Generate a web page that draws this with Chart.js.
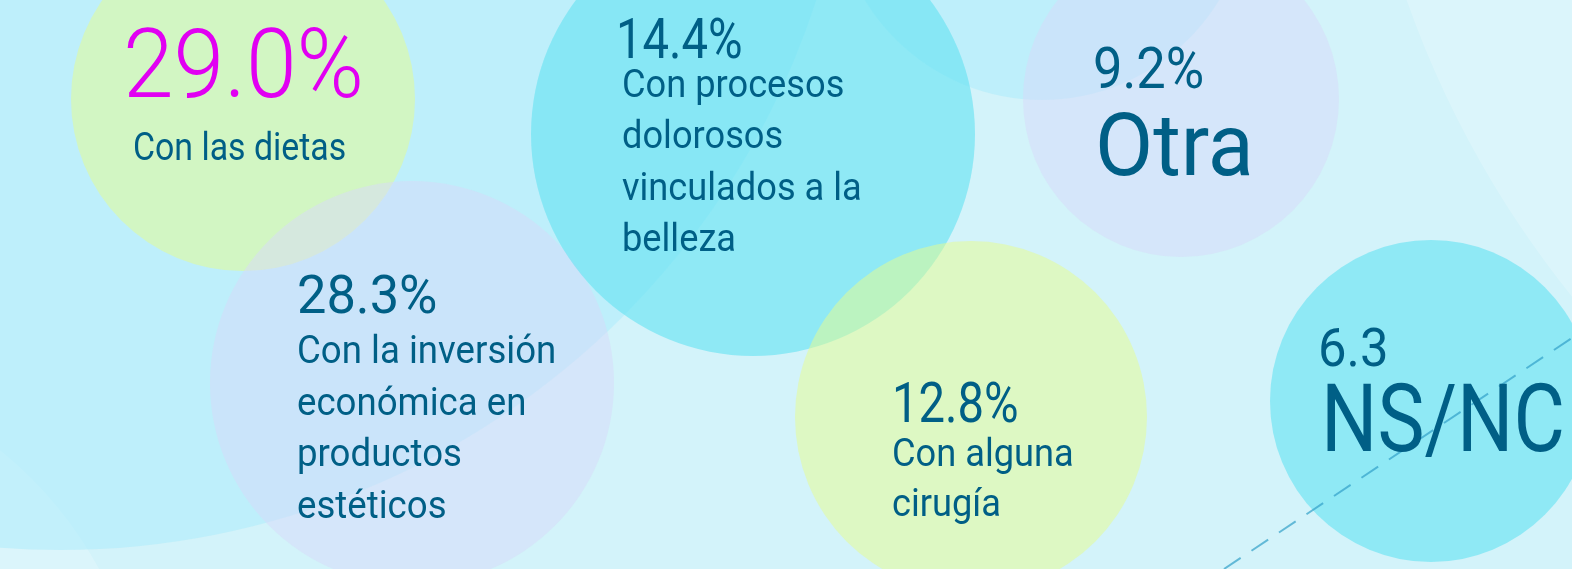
<!DOCTYPE html>
<html>
<head>
<meta charset="utf-8">
<script src="https://cdn.jsdelivr.net/npm/chart.js@4.4.0/dist/chart.umd.min.js"></script>
<style>
  html, body { margin: 0; padding: 0; background: #d3f3fa; overflow: hidden; }
  #wrap { width: 1572px; height: 569px; }
</style>
</head>
<body>
<div id="wrap"><canvas id="chart" width="1572" height="569"></canvas></div>
<script>
// datos
const categorias = [
    ['Con las dietas'],
    ['Con la inversión', 'económica en', 'productos', 'estéticos'],
    ['Con procesos', 'dolorosos', 'vinculados a la', 'belleza'],
    ['Otra'],
    ['Con alguna', 'cirugía'],
    ['NS/NC']
];
const porcentajes = [29.0, 28.3, 14.4, 9.2, 12.8, 6.3];
const etiquetasValor = ['29.0%', '28.3%', '14.4%', '9.2%', '12.8%', '6.3'];

// maquetación (en px de la imagen)
const burbujas = [
    { x: 243, y: 99, r: 172 },
    { x: 412, y: 383, r: 202 },
    { x: 753, y: 134, r: 222 },
    { x: 1181, y: 99, r: 158 },
    { x: 971, y: 417, r: 176 },
    { x: 1431, y: 401, r: 161 }
];
const coloresBurbuja = [
    'rgba(232,254,140,0.5)',
    'rgba(215,217,250,0.5)',
    'rgba(103,227,243,0.63)',
    'rgba(215,217,250,0.5)',
    'rgba(232,254,140,0.5)',
    'rgba(103,227,243,0.63)'
];
// v = valor, l = etiqueta; x/y = inicio y línea base, c = altura de mayúscula, s = escala horizontal
const textos = [
    { vx: 123, vy: 97, vc: 69, vw: 300, vs: 0.94, lx: 133, ly: 160, lc: 28, lh: 51, ls: 0.86 },
    { vx: 297, vy: 313, vc: 38, vw: 400, vs: 0.98, lx: 297, ly: 363, lc: 28, lh: 51.5, ls: 0.93 },
    { vx: 616, vy: 58, vc: 40, vw: 400, vs: 0.84, lx: 622, ly: 97, lc: 28, lh: 51.3, ls: 0.92 },
    { vx: 1093, vy: 88, vc: 41, vw: 400, vs: 0.91, lx: 1095, ly: 175, lc: 62, lh: 0, ls: 0.97 },
    { vx: 892, vy: 422, vc: 40, vw: 400, vs: 0.84, lx: 892, ly: 466, lc: 28, lh: 50, ls: 0.92 },
    { vx: 1318, vy: 366, vc: 38, vw: 400, vs: 0.95, lx: 1321, ly: 451, lc: 67, lh: 0, ls: 0.84 }
];
const fondos = [
    { x: 2358, y: -336, r: 1009, color: 'rgba(255,255,255,0.2)' },
    { x: -250, y: 760, r: 398, color: 'rgba(255,255,255,0.2)' },
    { x: 60, y: -245, r: 795, color: 'rgba(170,236,252,0.5)' },
    { x: 1042, y: -107, r: 207, color: 'rgba(170,236,252,0.5)' }
];
const guia = [{ x: 1224, y: 569 }, { x: 1572, y: 338 }];

const colorTexto = '#005f86';
const colorDestacado = '#e100f2';
const capRatio = 0.711;

function escribir(ctx, str, x, y, cap, peso, escala, color) {
    ctx.save();
    ctx.font = `${peso} ${cap / capRatio}px Roboto`;
    ctx.fillStyle = color;
    ctx.textBaseline = 'alphabetic';
    ctx.translate(x, y);
    ctx.scale(escala, 1);
    ctx.fillText(str, 0, 0);
    ctx.restore();
}

const decorado = {
    id: 'decorado',
    beforeDatasetsDraw(chart) {
        const { ctx, scales: { x, y } } = chart;
        const k = x.getPixelForValue(1) - x.getPixelForValue(0);
        ctx.save();
        fondos.forEach(f => {
            ctx.beginPath();
            ctx.arc(x.getPixelForValue(f.x), y.getPixelForValue(f.y), f.r * k, 0, Math.PI * 2);
            ctx.fillStyle = f.color;
            ctx.fill();
        });
        ctx.restore();
    },
    afterDatasetsDraw(chart) {
        const { ctx, scales: { x, y } } = chart;
        ctx.save();
        ctx.beginPath();
        ctx.moveTo(x.getPixelForValue(guia[0].x), y.getPixelForValue(guia[0].y));
        ctx.lineTo(x.getPixelForValue(guia[1].x), y.getPixelForValue(guia[1].y));
        ctx.setLineDash([20, 13]);
        ctx.lineWidth = 2;
        ctx.strokeStyle = 'rgba(50,160,200,0.7)';
        ctx.stroke();
        ctx.restore();

        textos.forEach((t, i) => {
            const color = i === 0 ? colorDestacado : colorTexto;
            escribir(ctx, etiquetasValor[i], x.getPixelForValue(t.vx), y.getPixelForValue(t.vy), t.vc, t.vw, t.vs, color);
            categorias[i].forEach((linea, j) => {
                escribir(ctx, linea, x.getPixelForValue(t.lx), y.getPixelForValue(t.ly + j * t.lh), t.lc, 400, t.ls, colorTexto);
            });
        });
    }
};

const ctx = document.getElementById('chart');
const grafico = new Chart(ctx, {
    type: 'bubble',
    data: {
        datasets: [{
            label: 'Porcentaje',
            data: burbujas.map((b, i) => ({ x: b.x, y: b.y, r: b.r, v: porcentajes[i] })),
            backgroundColor: coloresBurbuja,
            borderWidth: 0,
            hoverRadius: 0,
            clip: false
        }]
    },
    options: {
        responsive: false,
        animation: false,
        events: [],
        layout: { padding: 0, autoPadding: false },
        scales: {
            x: { type: 'linear', min: 0, max: 1572, display: false },
            y: { type: 'linear', min: 0, max: 569, reverse: true, display: false }
        },
        plugins: {
            legend: { display: false },
            tooltip: { enabled: false }
        }
    },
    plugins: [decorado]
});
</script>
</body>
</html>
